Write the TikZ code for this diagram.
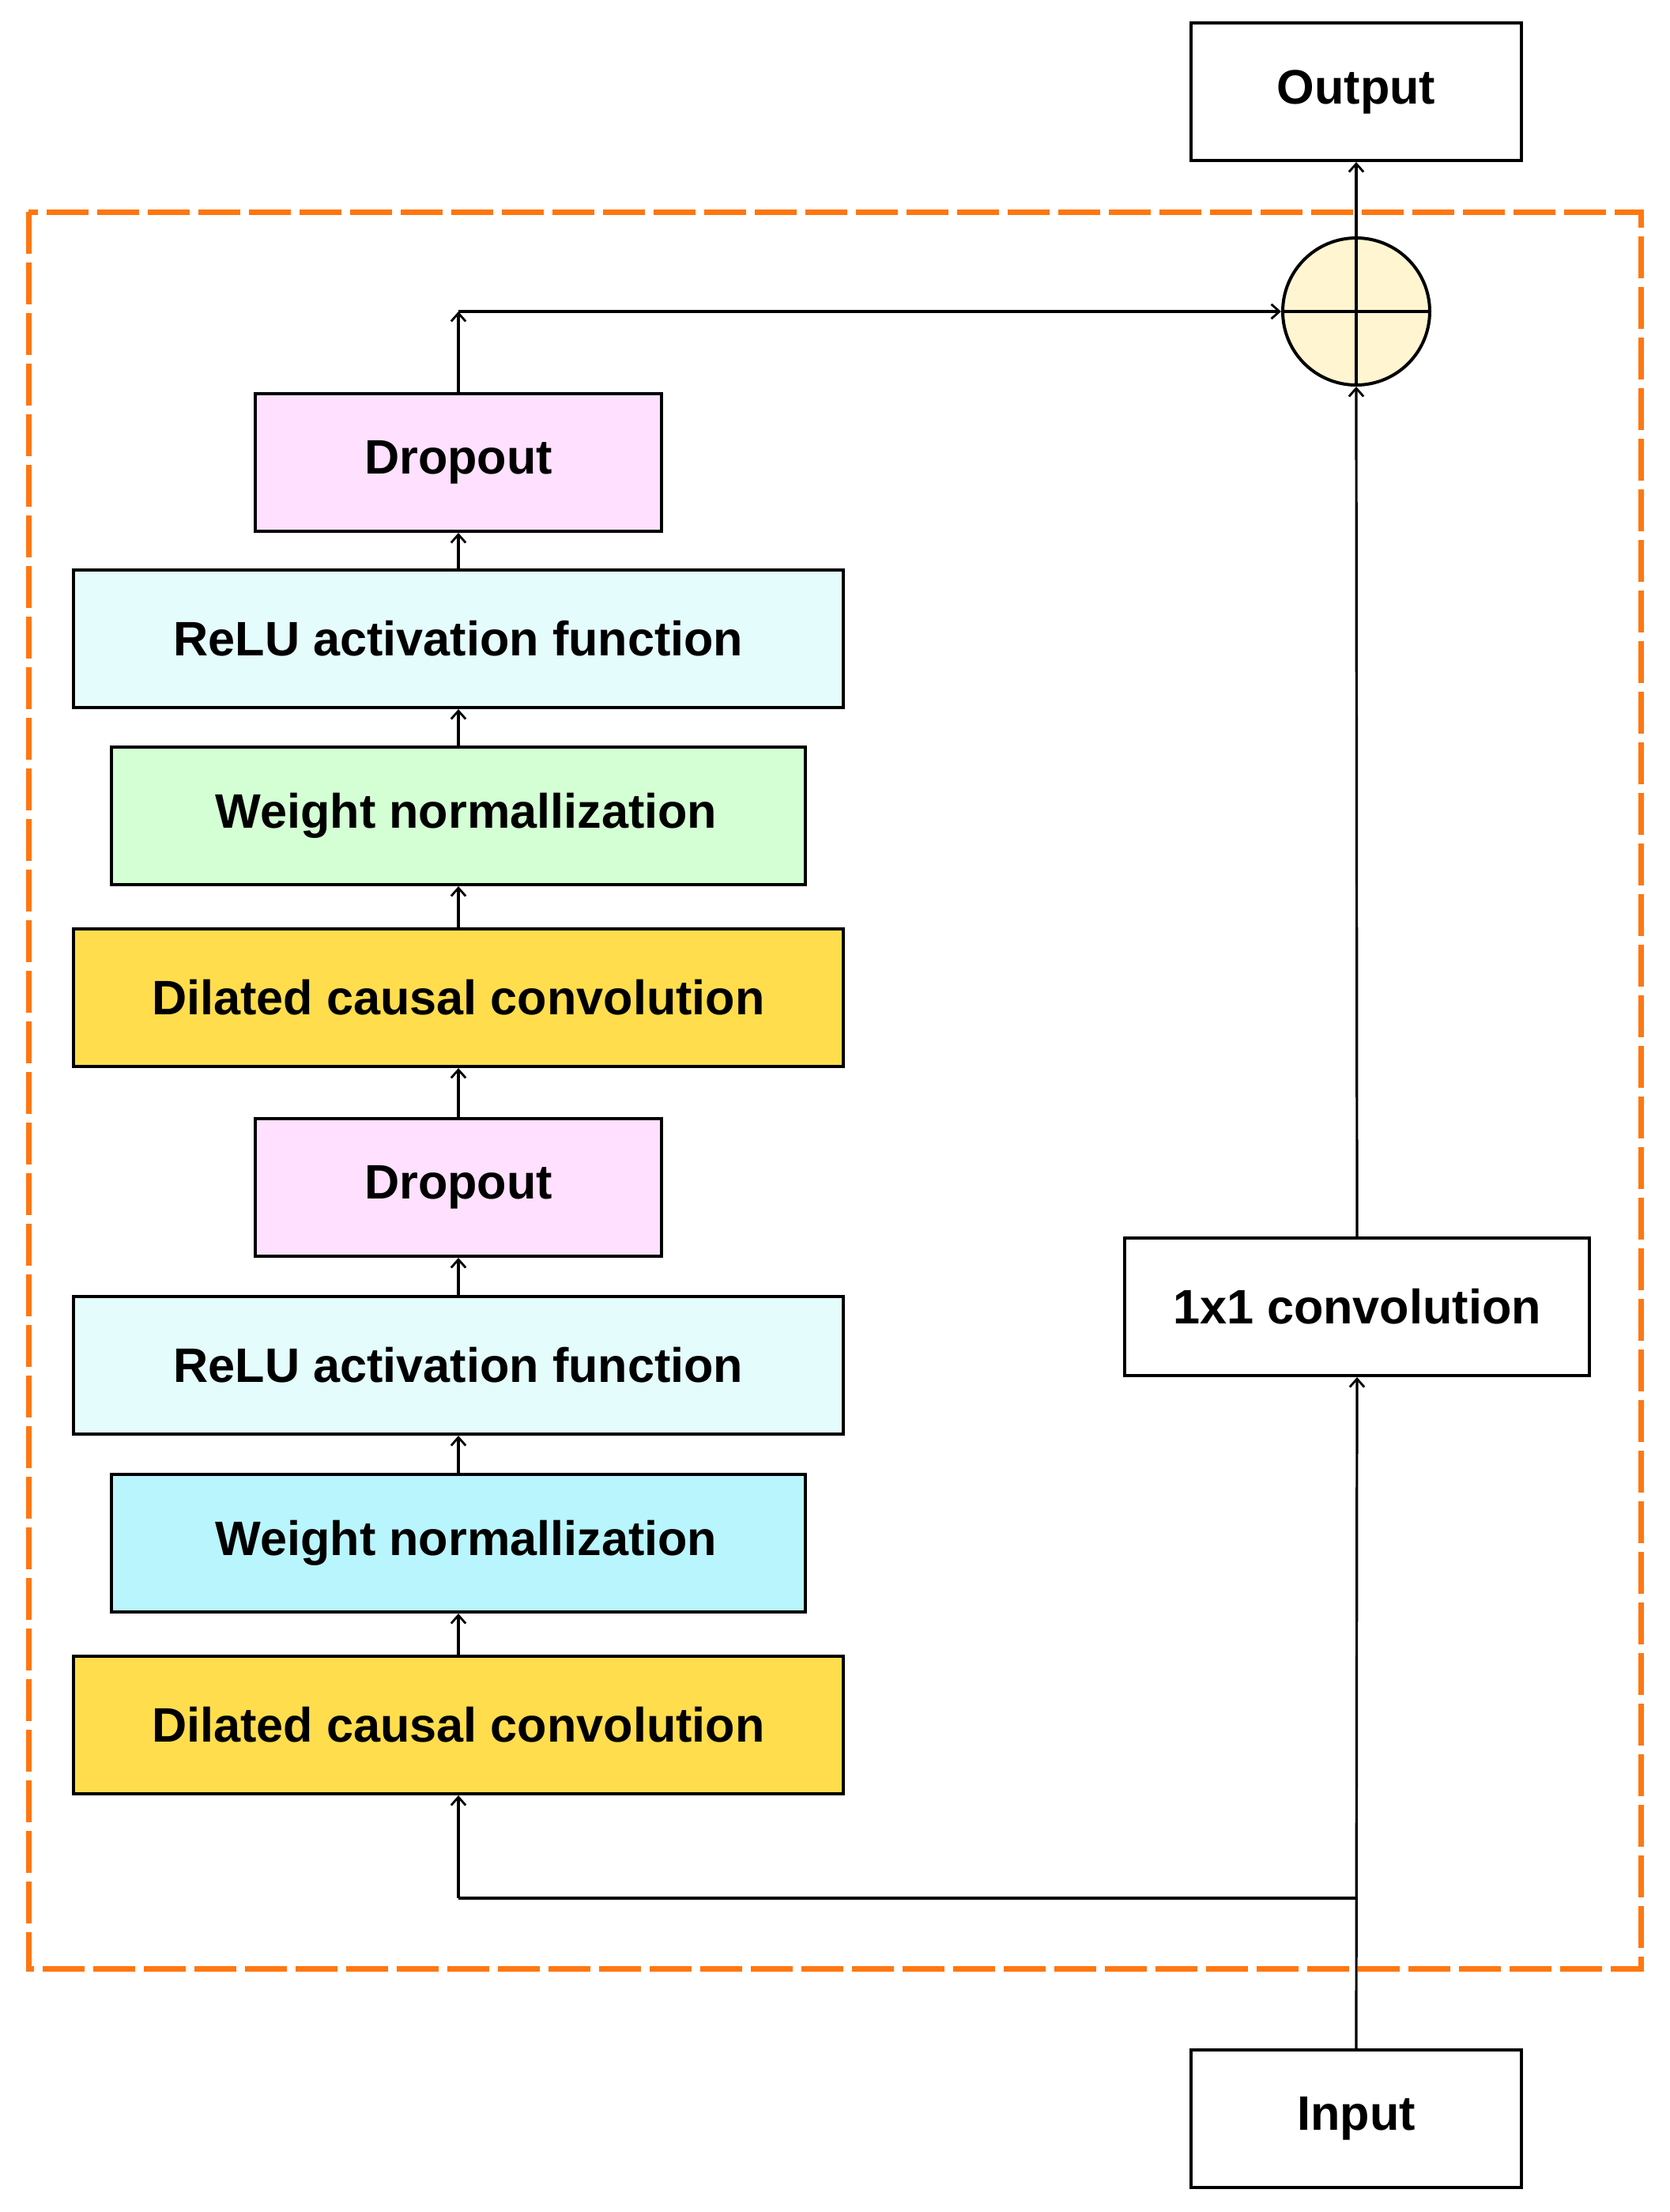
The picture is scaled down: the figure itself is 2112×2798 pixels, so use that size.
\documentclass[tikz,border=0pt]{standalone}
\usepackage{fontspec}
\setmainfont{Liberation Sans}
\usetikzlibrary{arrows.meta}
\definecolor{dropc}{HTML}{FFE0FF}
\definecolor{reluc}{HTML}{E4FCFC}
\definecolor{wnac}{HTML}{D4FFD4}
\definecolor{wnbc}{HTML}{B9F5FC}
\definecolor{dilc}{HTML}{FFDD4D}
\definecolor{sumc}{HTML}{FFF5D1}
\definecolor{orangec}{HTML}{FF7710}
\tikzset{
  blk/.style={draw=black, line width=1pt, inner sep=0pt, minimum height=43.5pt,
    font=\fontsize{15.3pt}{18pt}\selectfont\bfseries, text=black},
  conn/.style={draw=black, line width=0.8pt, -{Straight Barb[length=2.6pt,width=4.6pt,line width=0.7pt]}},
  line/.style={draw=black, line width=0.8pt},
}
\begin{document}
\begin{tikzpicture}[x=0.25pt,y=-0.25pt]
\useasboundingbox (0,0) rectangle (2112,2798);
% dashed frame
\draw[orangec, line width=1.75pt, dash pattern=on 13.25pt off 2.75pt] (36,268) rectangle (2076,2490);

% left column
\node[blk, fill=dropc, minimum width=128.5pt] (drop1) at (580,585) {Dropout};
\node[blk, fill=reluc, minimum width=243.5pt] (relu1) at (580,808) {ReLU activation function};
\node[blk, fill=wnac, minimum width=219.5pt] (wn1) at (580,1032) {\hspace*{5pt}Weight normallization};
\node[blk, fill=dilc, minimum width=243.5pt] (dil1) at (580,1262) {Dilated causal convolution};
\node[blk, fill=dropc, minimum width=128.5pt] (drop2) at (580,1502) {Dropout};
\node[blk, fill=reluc, minimum width=243.5pt] (relu2) at (580,1727) {ReLU activation function};
\node[blk, fill=wnbc, minimum width=219.5pt] (wn2) at (580,1952) {\hspace*{5pt}Weight normallization};
\node[blk, fill=dilc, minimum width=243.5pt] (dil2) at (580,2182) {Dilated causal convolution};

% right column
\node[blk, fill=white, minimum width=104.5pt] (out) at (1716,116) {Output};
\node[blk, fill=white, minimum width=147pt] (conv) at (1717,1653) {1x1 convolution};
\node[blk, fill=white, minimum width=104.5pt] (in) at (1716,2680) {Input};
\node[circle, draw=black, line width=1pt, fill=sumc, minimum size=46.5pt, inner sep=0pt] (sum) at (1716,394) {};
\draw[line] (sum.north) -- (sum.south);
\draw[line] (sum.west) -- (sum.east);

% coordinates
\coordinate (skip) at (580,394);
\coordinate (split) at (1716,2401);
\coordinate (bl) at (580,2401);

% connectors
\draw[conn] (in.north) -- (conv.south);
\draw[line] (split) -- (bl);
\draw[conn] (bl) -- (dil2.south);
\draw[conn] (dil2.north) -- (wn2.south);
\draw[conn] (wn2.north) -- (relu2.south);
\draw[conn] (relu2.north) -- (drop2.south);
\draw[conn] (drop2.north) -- (dil1.south);
\draw[conn] (dil1.north) -- (wn1.south);
\draw[conn] (wn1.north) -- (relu1.south);
\draw[conn] (relu1.north) -- (drop1.south);
\draw[conn] (drop1.north) -- (skip);
\draw[conn] (skip) -- (sum.west);
\draw[conn] (conv.north) -- (sum.south);
\draw[conn] (sum.north) -- (out.south);
\end{tikzpicture}
\end{document}
